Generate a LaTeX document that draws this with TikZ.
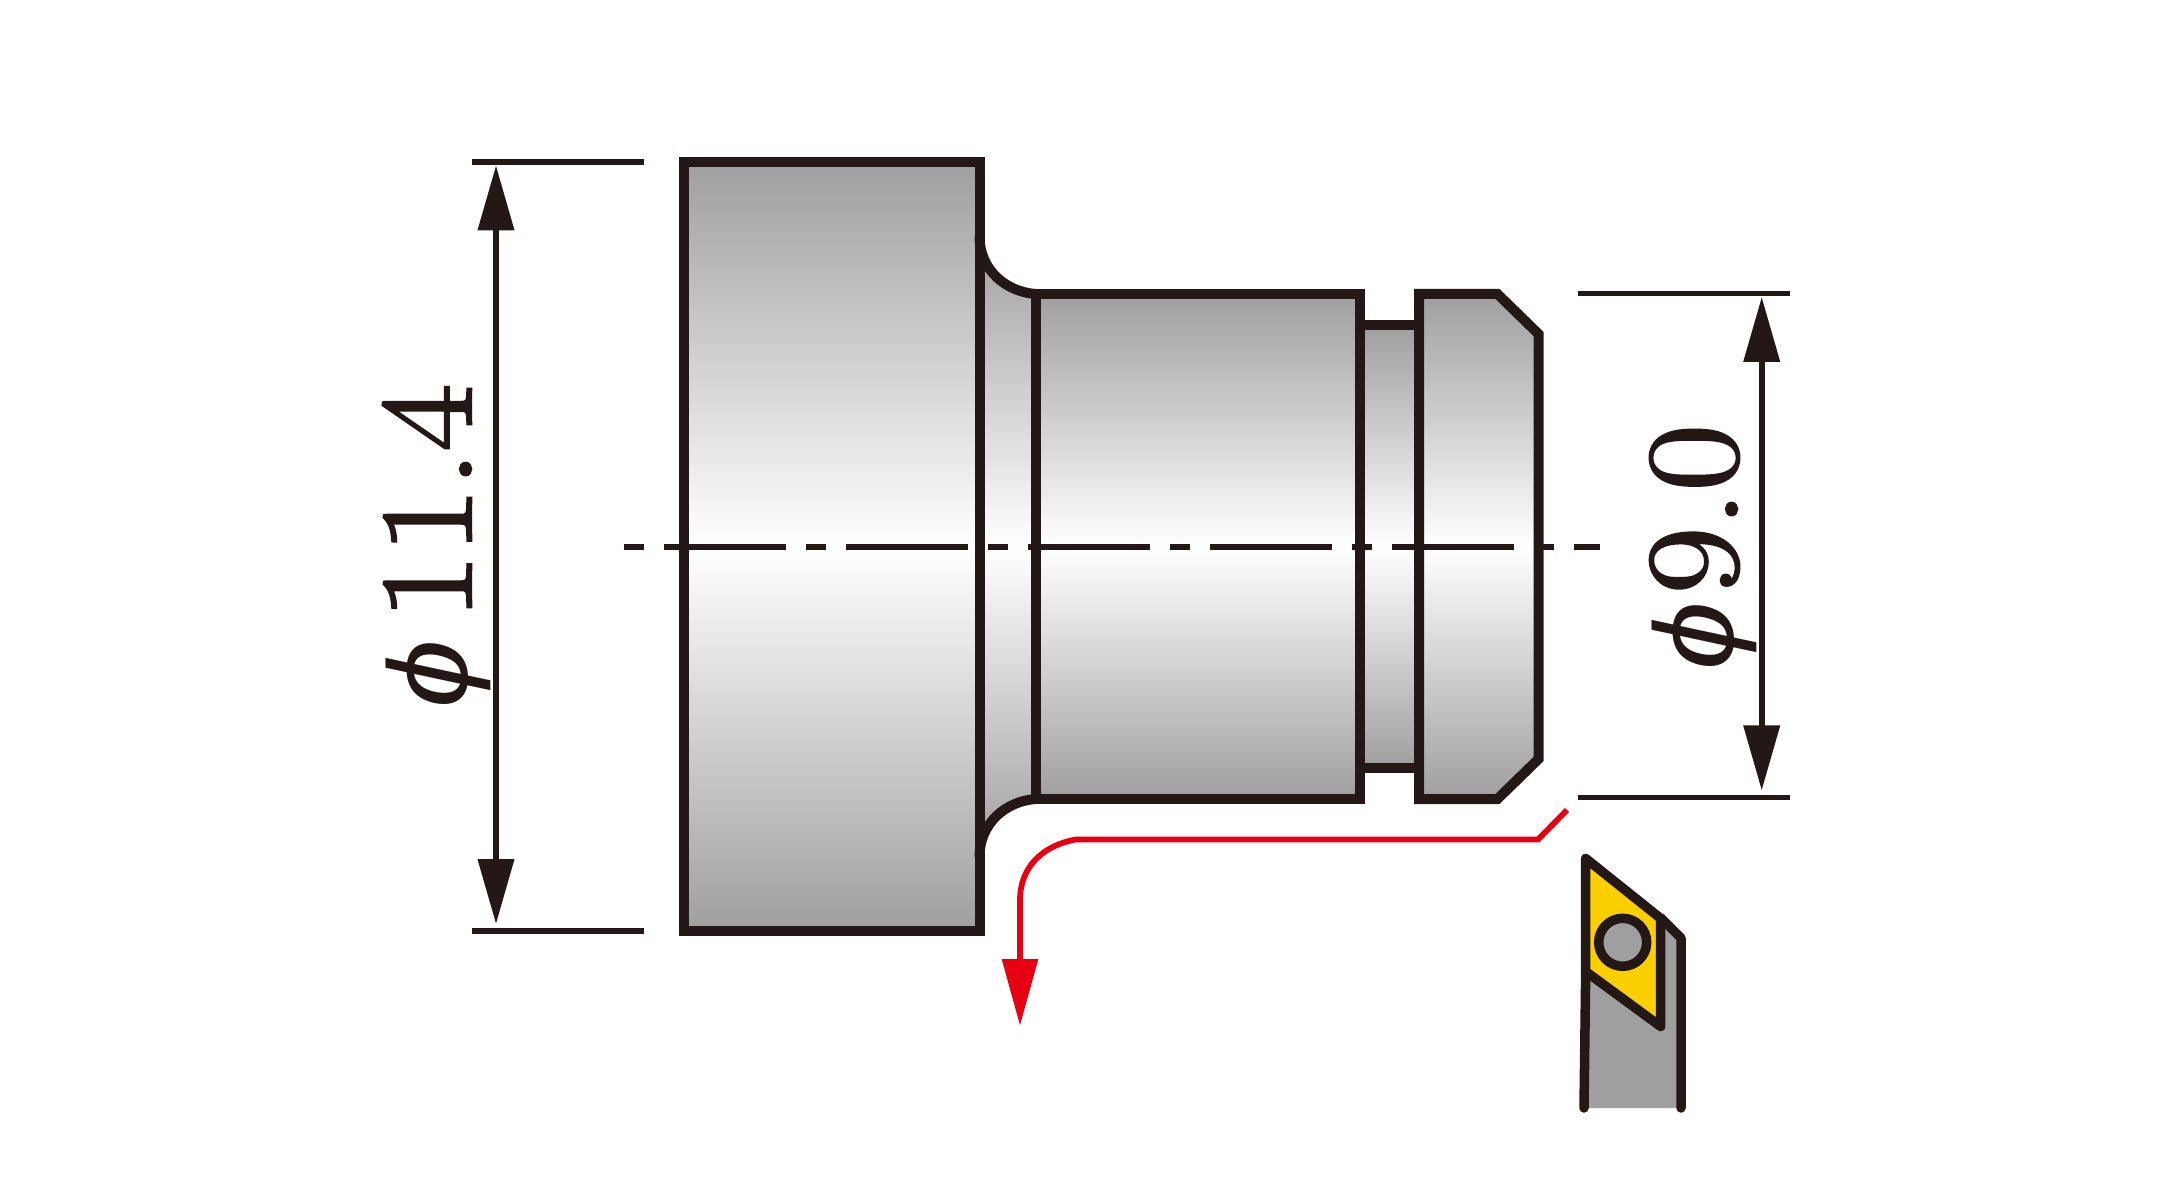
\documentclass[tikz,border=0pt]{standalone}
\usepackage{fontspec}
\newfontfamily\phisans{Liberation Sans}
\newfontfamily\digitfont[FakeBold=2]{Latin Modern Roman}
\usetikzlibrary{arrows.meta}
\definecolor{inkblack}{HTML}{231815}
\definecolor{cutred}{HTML}{E60012}
\definecolor{insertyellow}{HTML}{FCD000}
\definecolor{steelgray}{HTML}{9F9F9F}
\newcommand{\dimphi}{\raisebox{2pt}{\phisans\itshape\fontsize{64}{64}\selectfont ϕ}}
\tikzset{
	partline/.style={line width=2mm, color=inkblack, miter limit=10},
	partshade/.style={top color=steelgray, bottom color=steelgray, middle color=white},
	toolline/.style={line width=1.9mm, color=inkblack, line join=round, line cap=round},
	dimline/.style={line width=1.15mm, color=inkblack},
	dimarrow/.style={line width=1.15mm, color=inkblack, {Triangle[length=13mm,width=7.1mm]}-{Triangle[length=13mm,width=7.1mm]}},
	dimtext/.style={color=inkblack, font=\digitfont\fontsize{75}{80}\selectfont, inner sep=0pt, rotate=90, xscale=1.1, anchor=base east},
}
\begin{document}
\begin{tikzpicture}[x=0.2mm, y=-0.2mm]
	%%%%% START %%%%%
	\useasboundingbox (0, 0) rectangle (2176, 1200);

	% part, left to right
	\shade[partshade] (684, 162) rectangle (979.5, 931);
	\shade[partshade] (979.5, 236) .. controls (979.5, 270) and (1006, 292) .. (1036, 294) -- (1036, 799) .. controls (1006, 801) and (979.5, 823) .. (979.5, 857) -- cycle;
	\shade[partshade] (1036, 294) rectangle (1359.5, 799);
	\shade[partshade] (1359.5, 325) rectangle (1419, 768);
	\shade[partshade] (1419, 294) -- (1497.5, 294) -- (1538.5, 334) -- (1538.5, 759) -- (1497.5, 799) -- (1419, 799) -- cycle;

	\draw[partline] (684, 162) rectangle (979.5, 931);
	\draw[partline] (979.5, 236) .. controls (979.5, 270) and (1006, 292) .. (1036, 294);
	\draw[partline] (979.5, 857) .. controls (979.5, 823) and (1006, 801) .. (1036, 799);
	\draw[partline] (1036, 294) rectangle (1359.5, 799);
	\draw[partline] (1359.5, 325) -- (1419, 325);
	\draw[partline] (1359.5, 768) -- (1419, 768);
	\draw[partline] (1419, 294) -- (1497.5, 294) -- (1538.5, 334) -- (1538.5, 759) -- (1497.5, 799) -- (1419, 799) -- cycle;

	% centre line
	\draw[line width=1.15mm, color=inkblack, dash pattern=on 4.1mm off 4mm on 24.3mm off 4mm] (623.5, 547) -- (1599.5, 547);

	% left dimension
	\draw[dimline] (472, 162) -- (644, 162);
	\draw[dimline] (472, 931) -- (644, 931);
	\coordinate (leftup) at (496, 165.5);
	\coordinate (leftdown) at (496, 924);
	\draw[dimarrow] (leftup) -- (leftdown);
	\node[dimtext] (leftlabel) at (471, 384) {\dimphi\kern10pt 11.4};

	% right dimension
	\draw[dimline] (1578, 293.5) -- (1790, 293.5);
	\draw[dimline] (1578, 797.5) -- (1790, 797.5);
	\coordinate (rightup) at (1761.7, 297);
	\coordinate (rightdown) at (1761.7, 790.4);
	\draw[dimarrow] (rightup) -- (rightdown);
	\node[dimtext] (rightlabel) at (1737, 424) {\dimphi\kern4pt 9.0};

	% red path
	\draw[line width=1.15mm, color=cutred, -{Triangle[length=13.3mm,width=7mm]}] (1567, 810) -- (1538, 839.5) -- (1076, 839.5) .. controls (1044, 845) and (1020, 866) .. (1020, 900) -- (1020, 1025.7);

	% tool
	\fill[steelgray] (1584, 971) -- (1661, 918) -- (1681, 938) -- (1681, 1108) -- (1584, 1108) -- cycle;
	\draw[toolline] (1585.7, 971.5) -- (1584, 1108);
	\draw[toolline] (1661, 918) -- (1681, 938) -- (1681, 1108);
	\draw[toolline, fill=insertyellow] (1585.7, 858.5) -- (1660.7, 918.5) -- (1660.7, 1026.5) -- (1585.7, 971.5) -- cycle;
	\draw[toolline, fill=steelgray] (1622.7, 942.3) circle (24);
	%%%%% END %%%%%
\end{tikzpicture}
\end{document}
